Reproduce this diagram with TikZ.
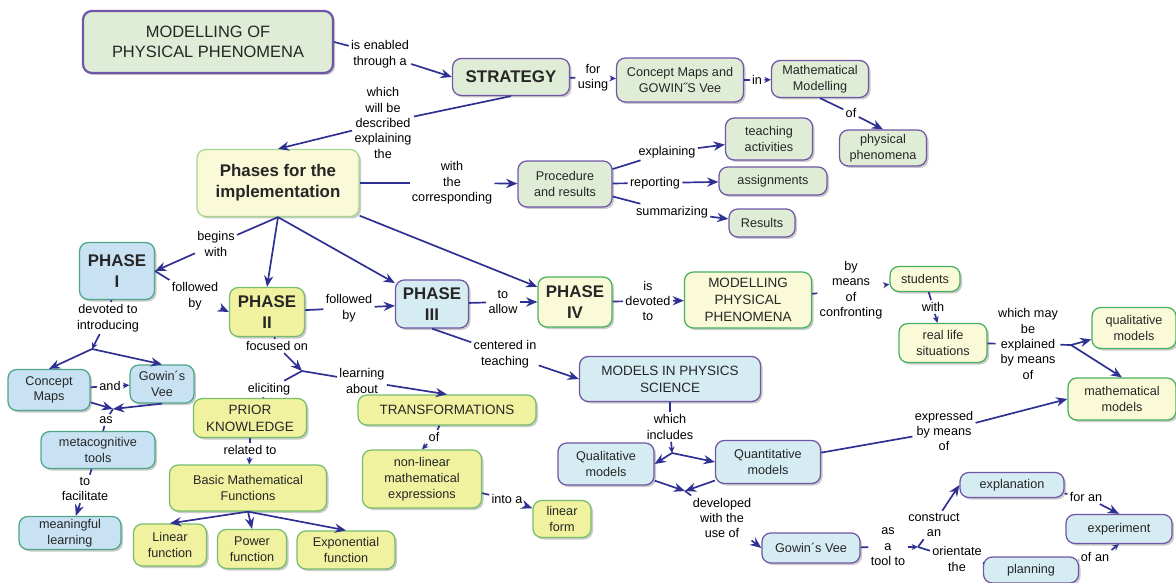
\documentclass[tikz,border=0pt]{standalone}
\usepackage{fontspec}
\setmainfont{Liberation Sans}
\usepackage{tikz}
\usetikzlibrary{arrows.meta, shadows}
\usepackage{xcolor}
\definecolor{linkc}{RGB}{46,48,146}
\definecolor{purpc}{RGB}{112,86,166}
\definecolor{grnc}{RGB}{72,176,96}
\definecolor{pgrnc}{RGB}{166,214,144}
\definecolor{ygrnc}{RGB}{118,190,108}
\definecolor{tealc}{RGB}{78,166,138}
\definecolor{fgrn}{RGB}{224,237,214}
\definecolor{fcream}{RGB}{250,250,216}
\definecolor{fyel}{RGB}{240,242,160}
\definecolor{fblue}{RGB}{200,226,243}
\definecolor{fcyan}{RGB}{214,236,243}
\tikzset{
  box/.style  ={draw, rounded corners=2.2mm, align=center, inner sep=1pt, line width=0.9pt, text=black!85,
                font=\fontsize{9}{11.2}\selectfont,
                drop shadow={shadow xshift=0.5mm, shadow yshift=-0.5mm, fill=black!35, opacity=0.6}},
  sz/.style 2 args={minimum width=#1*0.025cm, minimum height=#2*0.025cm},
  gbox/.style ={box, fill=fgrn,   draw=purpc},   % strategy branch
  kbox/.style ={box, fill=fcream, draw=grnc},    % phase IV branch
  ybox/.style ={box, fill=fyel,   draw=ygrnc},   % phase II branch
  bbox/.style ={box, fill=fblue,  draw=tealc},   % phase I branch
  cbox/.style ={box, fill=fcyan,  draw=purpc},   % phase III branch
  head/.style ={font=\fontsize{11.7}{14.5}\selectfont, line width=1.6pt},
  big/.style  ={font=\bfseries\fontsize{12}{15}\selectfont},
  caps/.style ={font=\fontsize{9.6}{12}\selectfont},
  lbl/.style  ={align=center, inner sep=1.5pt, text=black, font=\fontsize{9}{11}\selectfont},
  link/.style ={draw=linkc, line width=1.2pt},
  arr/.style  ={link, -{Stealth[length=2.8mm, width=2.3mm]}},   % phrase -> concept
  sarr/.style ={link, -{Stealth[length=1.6mm, width=1.5mm]}},   % short hops
}

\begin{document}
\begin{tikzpicture}[x=0.025cm, y=-0.025cm]
  \useasboundingbox (0,0) rectangle (1176,583);

  % TOP: strategy row
  \node[gbox, head, sz={250}{62}] (mpp)     at (208,42)  {MODELLING OF\\PHYSICAL PHENOMENA};
  \node[gbox, big,  sz={117}{37}] (strat)   at (511,77)  {STRATEGY};
  \node[gbox, sz={127}{44}]       (cmgv)    at (680,80)  {Concept Maps and\\GOWIN˝S Vee};
  \node[gbox, sz={97}{37}]        (mathmod) at (820,79)  {Mathematical\\Modelling};
  \node[gbox, sz={87}{36}]        (physph)  at (883,148) {physical\\phenomena};
  \node[lbl] (l-enab)  at (380,54)  {is enabled\\through a};
  \node[lbl] (l-which) at (383,123) {which\\will be\\described\\explaining\\the};
  \node[lbl] (l-using) at (593,78)  {for\\using};
  \node[lbl] (l-in)    at (757,80)  {in};
  \node[lbl] (l-of1)   at (851,113) {of};

  % phases and procedure
  \node[kbox, big, draw=pgrnc, sz={162}{67}] (phases) at (278,183) {Phases for the\\implementation};
  \node[gbox, sz={94}{46}]  (proc)    at (565,184) {Procedure\\and results};
  \node[gbox, sz={87}{42}]  (teach)   at (769,139) {teaching\\activities};
  \node[gbox, sz={108}{28}] (assign)  at (773,181) {assignments};
  \node[gbox, sz={66}{28}]  (results) at (762,223) {Results};
  \node[lbl] (l-corr) at (452,183) {with\\the\\corresponding};
  \node[lbl] (l-expl) at (667,152) {explaining};
  \node[lbl] (l-rep)  at (655,183) {reporting};
  \node[lbl] (l-sum)  at (672,212) {summarizing};

  \draw[link] (mpp.east) -- (l-enab);
  \draw[arr]  (l-enab) -- (strat.west);
  \draw[link] (strat.south) -- (l-which);
  \draw[arr]  (l-which) -- (phases.north);
  \draw[link] (strat) -- (l-using);
  \draw[sarr] (l-using) -- (cmgv);
  \draw[link] (cmgv) -- (l-in);
  \draw[sarr] (l-in) -- (mathmod);
  \draw[link] (mathmod.south) -- (l-of1);
  \draw[arr]  (l-of1) -- (physph.north);
  \draw[link] (phases) -- (l-corr);
  \draw[arr]  (l-corr) -- (proc);
  \draw[link] (proc) -- (l-expl);
  \draw[arr]  (l-expl) -- (teach);
  \draw[link] (proc) -- (l-rep);
  \draw[arr]  (l-rep) -- (assign);
  \draw[link] (proc) -- (l-sum);
  \draw[arr]  (l-sum) -- (results);

  % MIDDLE: the four phases
  \node[bbox, big, sz={75}{57}]  (ph1)  at (117,271) {PHASE\\I};
  \node[ybox, big, sz={75}{49}]  (ph2)  at (267,312) {PHASE\\II};
  \node[cbox, big, sz={73}{48}]  (ph3)  at (432,304) {PHASE\\III};
  \node[kbox, big, sz={74}{50}]  (ph4)  at (575,302) {PHASE\\IV};
  \node[kbox, caps, sz={127}{56}] (mpp2) at (748,300) {MODELLING\\PHYSICAL\\PHENOMENA};
  \node[kbox, sz={70}{25}]  (stud)  at (925,279)  {students};
  \node[kbox, sz={88}{39}]  (real)  at (943,343)  {real life\\situations};
  \node[kbox, sz={84}{41}]  (qualm) at (1134,328) {qualitative\\models};
  \node[kbox, sz={108}{42}] (mathm) at (1122,399) {mathematical\\models};
  \node[lbl] (l-begin)   at (216,244)  {begins\\with};
  \node[lbl] (l-fol1)    at (195,296)  {followed\\by};
  \node[lbl] (l-fol2)    at (349,308)  {followed\\by};
  \node[lbl] (l-allow)   at (503,302)  {to\\allow};
  \node[lbl] (l-devot)   at (648,301)  {is\\devoted\\to};
  \node[lbl] (l-confr)   at (851,290)  {by\\means\\of\\confronting};
  \node[lbl] (l-with)    at (933,307)  {with};
  \node[lbl] (l-explain) at (1028,344) {which may\\be\\explained\\by means\\of};
  \coordinate (j-mod) at (1071,345);

  \draw[link] (phases.south) -- (l-begin);
  \draw[arr]  (l-begin) -- (ph1.east);
  \draw[arr]  (phases.south) -- (ph2.north);
  \draw[arr]  (phases.south) -- (ph3);
  \draw[arr]  (phases) -- (ph4);
  \draw[link] (ph1.east) -- (l-fol1);
  \draw[arr]  (l-fol1) -- (ph2.west);
  \draw[link] (ph2) -- (l-fol2);
  \draw[arr]  (l-fol2) -- (ph3);
  \draw[link] (ph3) -- (l-allow);
  \draw[arr]  (l-allow) -- (ph4);
  \draw[link] (ph4) -- (l-devot);
  \draw[arr]  (l-devot) -- (mpp2);
  \draw[link] (mpp2) -- (l-confr);
  \draw[sarr] (l-confr) -- (stud);
  \draw[link] (stud) -- (l-with);
  \draw[sarr] (l-with) -- (real);
  \draw[link] (real) -- (l-explain);
  \draw[link] (l-explain) -- (j-mod);
  \draw[arr]  (j-mod) -- (qualm);
  \draw[arr]  (j-mod) -- (mathm.north);

  % LEFT: phase I branch
  \node[bbox, sz={82}{41}]  (cmaps)  at (49,390)  {Concept\\Maps};
  \node[bbox, sz={64}{38}]  (gvee)   at (162,384) {Gowin´s\\Vee};
  \node[bbox, sz={114}{37}] (meta)   at (98,450)  {metacognitive\\tools};
  \node[bbox, sz={102}{33}] (mean)   at (70,533)  {meaningful\\learning};
  \node[lbl] (l-intro) at (108,318) {devoted to\\introducing};
  \node[lbl] (l-and)   at (110,386) {and};
  \node[lbl] (l-as)    at (106,420) {as};
  \node[lbl] (l-facil) at (85,489)  {to\\facilitate};
  \coordinate (j-intro) at (92,349);
  \coordinate (j-as)    at (113,409);

  \draw[link] (ph1) -- (l-intro);
  \draw[sarr] (l-intro) -- (j-intro);
  \draw[arr]  (j-intro) -- (cmaps.north);
  \draw[arr]  (j-intro) -- (gvee.north);
  \draw[link] (cmaps) -- (l-and);
  \draw[sarr] (l-and) -- (gvee);
  \draw[arr]  (cmaps) -- (j-as);
  \draw[arr]  (gvee.south) -- (j-as);
  \draw[link] (j-as) -- (l-as);
  \draw[link] (l-as) -- (meta);
  \draw[link] (meta) -- (l-facil);
  \draw[arr]  (l-facil) -- (mean);

  % CENTRE: phase II branch
  \node[ybox, caps, sz={113}{39}] (prior)  at (250,418) {PRIOR\\KNOWLEDGE};
  \node[ybox, sz={157}{46}]       (basic)  at (248,488) {Basic Mathematical\\Functions};
  \node[ybox, sz={73}{42}]        (linf)   at (170,545) {Linear\\function};
  \node[ybox, sz={69}{39}]        (powf)   at (252,549) {Power\\function};
  \node[ybox, sz={98}{38}]        (expf)   at (346,550) {Exponential\\function};
  \node[ybox, caps, sz={178}{30}] (transf) at (447,410) {TRANSFORMATIONS};
  \node[ybox, sz={119}{58}]       (nonlin) at (422,479) {non-linear\\mathematical\\expressions};
  \node[ybox, sz={58}{37}]        (linform) at (562,519) {linear\\form};
  \node[lbl] (l-focus)  at (277,346) {focused on};
  \node[lbl] (l-elicit) at (269,389) {eliciting};
  \node[lbl] (l-learn)  at (362,381) {learning\\about};
  \node[lbl] (l-relat)  at (250,450) {related to};
  \node[lbl] (l-of2)    at (434,437) {of};
  \node[lbl] (l-into)   at (507,499) {into a};
  \coordinate (j-focus) at (302,371);

  \draw[link] (ph2) -- (l-focus);
  \draw[arr]  (l-focus) -- (j-focus);
  \draw[link] (j-focus) -- (l-elicit);
  \draw[link] (l-elicit) -- (prior);
  \draw[link] (j-focus) -- (l-learn);
  \draw[arr]  (l-learn) -- (transf.north);
  \draw[link] (prior) -- (l-relat);
  \draw[sarr] (l-relat) -- (basic);
  \draw[arr]  (basic.south) -- (linf.north);
  \draw[arr]  (basic.south) -- (powf.north);
  \draw[arr]  (basic.south) -- (expf.north);
  \draw[link] (transf) -- (l-of2);
  \draw[sarr] (l-of2) -- (nonlin.north);
  \draw[link] (nonlin) -- (l-into);
  \draw[arr]  (l-into) -- (linform);

  % RIGHT: phase III branch
  \node[cbox, caps, sz={181}{45}] (models) at (670,379)  {MODELS IN PHYSICS\\SCIENCE};
  \node[cbox, sz={96}{42}]  (qual)   at (606,464)  {Qualitative\\models};
  \node[cbox, sz={105}{43}] (quant)  at (768,462)  {Quantitative\\models};
  \node[cbox, sz={98}{30}]  (gvee2)  at (811,548)  {Gowin´s Vee};
  \node[cbox, sz={104}{25}] (explan) at (1012,485) {explanation};
  \node[cbox, sz={106}{29}] (exper)  at (1119,529) {experiment};
  \node[cbox, sz={95}{26}]  (plan)   at (1031,570) {planning};
  \node[lbl] (l-centr)  at (505,354) {centered in\\teaching};
  \node[lbl] (l-incl)   at (670,427) {which\\includes};
  \node[lbl] (l-devel)  at (722,518) {developed\\with the\\use of};
  \node[lbl] (l-expr)   at (944,431) {expressed\\by means\\of};
  \node[lbl] (l-tool)   at (888,547) {as\\a\\tool to};
  \node[lbl] (l-constr) at (934,525) {construct\\an};
  \node[lbl] (l-orient) at (957,559) {orientate\\the};
  \node[lbl] (l-foran)  at (1086,497) {for an};
  \node[lbl] (l-ofan)   at (1095,557) {of an};
  \coordinate (j-incl) at (672,453);
  \coordinate (j-devel) at (685,491);
  \coordinate (j-tool) at (918,547);

  \draw[link] (ph3.south) -- (l-centr);
  \draw[arr]  (l-centr) -- (models.west);
  \draw[link] (models) -- (l-incl);
  \draw[sarr] (l-incl) -- (j-incl);
  \draw[arr]  (j-incl) -- (qual.east);
  \draw[arr]  (j-incl) -- (quant.west);
  \draw[arr]  (qual) -- (j-devel);
  \draw[arr]  (quant) -- (j-devel);
  \draw[link] (j-devel) -- (l-devel);
  \draw[arr]  (l-devel) -- (gvee2.west);
  \draw[link] (quant) -- (l-expr);
  \draw[arr]  (l-expr) -- (mathm.west);
  \draw[link] (gvee2) -- (l-tool);
  \draw[sarr] (l-tool) -- (j-tool);
  \draw[link] (j-tool) -- (l-constr);
  \draw[arr]  (l-constr.60) -- (explan.west);
  \draw[link] (j-tool) -- (l-orient);
  \draw[link] (l-orient) -- (plan);
  \draw[link] (explan) -- (l-foran);
  \draw[arr]  (l-foran) -- (exper.north);
  \draw[link] (plan) -- (l-ofan);
  \draw[sarr] (l-ofan.north east) -- (exper.south);
\end{tikzpicture}
\end{document}
